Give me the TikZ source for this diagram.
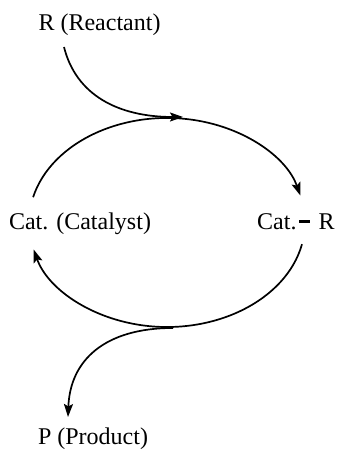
\documentclass[tikz,border=0pt]{standalone}
\usepackage{fontspec}
\setmainfont{Liberation Serif}
\usetikzlibrary{arrows.meta, calc}

\begin{document}
\begin{tikzpicture}[
	x=1pt, y=1pt,
	species/.style={inner sep=0pt, font=\fontsize{24}{28}\selectfont, anchor=base},
	flow/.style={line width=1.7pt, -{Stealth[length=13pt, width=9pt, inset=2.5pt]}}
	]
	\useasboundingbox (0,0) rectangle (339,450);
	
	% --- Species ---
	\node[species] (react) at (99.5,419) {R (Reactant)};
	\node[species] (cat) at (80,220) {Cat. (Catalyst)};
	\node[species, anchor=base west] (catr) at (257,220) {Cat.\hspace{0.12em}\rule[0.3em]{0.45em}{0.11em}\hspace{0.35em}R};
	\node[species] (prod) at (93,5.5) {P (Product)};
	
	% --- Points on the cycle ---
	\coordinate (c) at (167,227.5);
	\coordinate (ul) at ($(c)+(166:138 and 104.5)$);
	\coordinate (lr) at ($(c)+(-12:138 and 104.5)$);
	\coordinate (top) at (183,333);
	\coordinate (bot) at (173,122);
	\coordinate (rin) at (64,403);
	\coordinate (pout) at (68,33);
	
	% --- Catalytic cycle ---
	\draw[flow] (ul) arc[start angle=166, end angle=15, x radius=138, y radius=104.5];
	\draw[flow] (lr) arc[start angle=-12, end angle=-165, x radius=138, y radius=104.5];
	
	% --- Reactant in, product out ---
	\draw[flow] (rin) .. controls (76,355) and (118,333) .. (top);
	\draw[flow] (bot) .. controls (105,122) and (70,90) .. (pout);
	
\end{tikzpicture}
\end{document}
